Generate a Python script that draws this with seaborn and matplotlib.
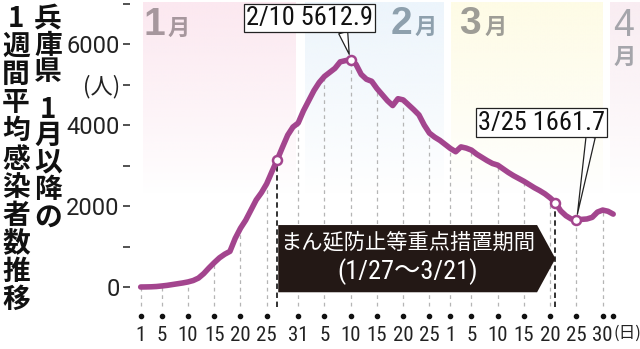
import numpy as np
import matplotlib
matplotlib.use("Agg")
import matplotlib.pyplot as plt
from matplotlib import font_manager as fm
from matplotlib.patches import Polygon
from matplotlib.colors import to_rgb
import seaborn as sns

# ---------------- data ----------------
days = list(range(1, 92))  # day of year, 2021-01-01 .. 2021-04-01
values = [
    0, 2, 5, 12, 25, 40, 60, 80, 100, 125,
    160, 220, 330, 470, 600, 720, 810, 880, 1200, 1450,
    1650, 1900, 2150, 2330, 2550, 2850, 3140, 3450, 3750, 3950,
    4050, 4350, 4600, 4850, 5050, 5200, 5300, 5400, 5560, 5590,
    5612.9, 5500, 5250, 5130, 5080, 4900, 4750, 4600, 4480, 4650,
    4620, 4500, 4380, 4250, 4000, 3800, 3700, 3620, 3520, 3420,
    3340, 3460, 3430, 3380, 3280, 3200, 3120, 3050, 3010, 2920,
    2830, 2750, 2680, 2610, 2530, 2450, 2380, 2300, 2200, 2080,
    1880, 1760, 1680, 1661.7, 1670, 1680, 1720, 1850, 1900, 1870, 1800,
]
tick_days = [1, 5, 10, 15, 20, 25, 31, 36, 41, 46, 51, 56, 60, 64, 69, 74, 79, 84, 89]
tick_labels = ["1", "5", "10", "15", "20", "25", "31", "5", "10", "15", "20", "25",
               "1", "5", "10", "15", "20", "25", "30"]
dot_days = tick_days + [91]
y_ticks = [0, 1000, 2000, 3000, 4000, 5000, 6000, 7000]
y_labels = ["0", "", "2000", "", "4000", "(人)", "6000", ""]
highlight_days = [27, 41, 80, 84]
peak_day, peak_label = 41, "2/10 5612.9"
low_day, low_label = 84, "3/25 1661.7"
period_start, period_end = 27, 80
period_text1 = "まん延防止等重点措置期間"
period_text2 = "(1/27～3/21)"
months = ["1", "2", "3", "4"]
month_bands = [(1.5, 30.6), (32.2, 58.6), (60.2, 89.1), (90.4, 97)]
month_colors = ["#fce8f0", "#edf5fc", "#fefce6", "#f9edf2"]
month_text_colors = ["#a6979d", "#8ea0ad", "#9e9d96", "#a5a5ab"]
title_right = list("兵庫県") + ["1"] + list("月以降の")
title_left = list("1週間平均感染者数推移")

# ---------------- style ----------------
sns.set_theme(style="white")
names = {f.name for f in fm.fontManager.ttflist}
NARROW = next((n for n in ["Liberation Sans Narrow", "Roboto Condensed", "DejaVu Sans"] if n in names), "DejaVu Sans")
NUM = "Roboto" if "Roboto" in names else "DejaVu Sans"
CJK = "Noto Sans CJK JP"
plt.rcParams["font.family"] = [NARROW, CJK, "DejaVu Sans"]

LINE = "#a3458e"
W, H = 640, 349

fig = plt.figure(figsize=(6.4, 3.49), dpi=100)
fig.patch.set_facecolor("white")
XMIN, XMAX = -1, 96
YMIN, YMAX = -500, 7050
ax = fig.add_axes([130.2 / W, (H - 307.25) / H, 509.25 / W, 305.75 / H])
ax.set_facecolor("white")

# month bands (gradient fading downward)
for (x0, x1), col in zip(month_bands, month_colors):
    rgba = np.zeros((200, 1, 4))
    rgba[..., :3] = to_rgb(col)
    rgba[:, 0, 3] = np.linspace(1, 0, 200) ** 0.9
    ax.imshow(rgba, extent=[x0, x1, 2300, YMAX], aspect="auto", origin="upper",
              zorder=0, interpolation="bilinear")

# grey dashed drop lines
grid_days = tick_days
ax.vlines(grid_days, -480, [values[d - 1] for d in grid_days], colors="#b5b5b5",
          linestyles=(0, (3, 3)), linewidth=0.9, zorder=1)
# black dashed period lines
ax.vlines([period_start, period_end], -500,
          [values[period_start - 1], values[period_end - 1]],
          colors="#222222", linestyles=(0, (3, 2)), linewidth=1.3, zorder=2)

# main line
sns.lineplot(x=days, y=values, color=LINE, linewidth=4, ax=ax, zorder=4,
             solid_capstyle="round", solid_joinstyle="round")

# highlighted markers
sns.scatterplot(x=highlight_days, y=[values[d - 1] for d in highlight_days], s=42,
                color="white", edgecolor=LINE, linewidth=1.8, zorder=6, ax=ax)

# period arrow box
ax.add_patch(Polygon([(period_start + 0.2, 1530), (period_end - 3.5, 1530), (period_end, 700),
                      (period_end - 3.5, -130), (period_start + 0.2, -130)],
                     closed=True, fc="#231815", ec="none", zorder=5))
cx = (period_start + period_end - 3.3) / 2
ax.text(cx, 1110, period_text1, color="white", fontsize=15.3, family=[CJK],
        ha="center", va="center", zorder=6)
ax.text(cx, 380, period_text2, color="white", fontsize=19, family=[NARROW, CJK],
        ha="center", va="center", zorder=6)

# callouts
for d, lab, xt, yt, rx in [(peak_day, peak_label, 33.15, 6642, 0.76),
                            (low_day, low_label, 77.35, 4062, 0.89)]:
    ax.annotate(lab, xy=(d, values[d - 1]), xytext=(xt, yt), ha="center", va="center",
                fontsize=19, family=[NARROW], color="#111111", zorder=8,
                bbox=dict(boxstyle="square,pad=0.08", fc="white", ec="#222222", lw=0.9),
                arrowprops=dict(arrowstyle="wedge,tail_width=0.35", fc="white", ec="#222222",
                                lw=0.9, relpos=(rx, 0), shrinkA=0, shrinkB=4))

# x axis dots and labels
ax.scatter(dot_days, [-716] * len(dot_days), s=9, color="#111111", clip_on=False, zorder=6)
ax.set_xticks(tick_days)
ax.set_xticklabels(tick_labels, fontsize=15, family=[NARROW], color="#222222")
ax.tick_params(axis="x", length=0, pad=13.5)
ax.text(91.0, -1150, "(日)", fontsize=12, family=[CJK], color="#222222",
        ha="left", va="center", clip_on=False)

# y axis
ax.set_yticks(y_ticks)
ax.set_yticklabels(y_labels, fontsize=17, family=[NUM, "DejaVu Sans"], color="#222222")
for lab in ax.get_yticklabels():
    if lab.get_text() == "(人)":
        lab.set_fontfamily([CJK])
        lab.set_fontsize(16)
ax.tick_params(axis="y", length=5, width=1.2, color="#333333", pad=2.5, left=True)

ax.set_xlim(XMIN, XMAX)
ax.set_ylim(YMIN, YMAX)
for s in ax.spines.values():
    s.set_visible(False)
ax.set_xlabel("")
ax.set_ylabel("")

# month labels
def fx(px):
    return px / W

def fy(py):
    return 1 - py / H

month_pos = [(154, 25, 179, 28), (401, 24, 426, 27), (470, 24, 496, 27)]
for m, c, (dx, dy, mx, my) in zip(months[:3], month_text_colors[:3], month_pos):
    fig.text(fx(dx), fy(dy), m, fontsize=28, fontweight="bold", family=["Liberation Sans", "DejaVu Sans"],
             color=c, ha="center", va="center")
    fig.text(fx(mx), fy(my), "月", fontsize=16, fontweight="bold", family=[CJK], color=c,
             ha="center", va="center")
fig.text(fx(624), fy(26), months[3], fontsize=27, family=["Liberation Sans", "DejaVu Sans"],
         color=month_text_colors[3], ha="center", va="center")
fig.text(fx(625), fy(57), "月", fontsize=16, fontweight="bold", family=[CJK],
         color=month_text_colors[3], ha="center", va="center")

# vertical title
right_y = [19, 46, 72, 110, 136, 162, 190, 218]
for ch, yy in zip(title_right, right_y):
    fig.text(fx(48), fy(yy), ch, fontsize=20, fontweight="bold", family=[CJK],
             color="#111111", ha="center", va="center")
for i, ch in enumerate(title_left):
    fig.text(fx(16), fy(19 + i * 28.1), ch, fontsize=20, fontweight="bold", family=[CJK],
             color="#111111", ha="center", va="center")

fig.savefig("out.png", dpi=100, facecolor="white")
